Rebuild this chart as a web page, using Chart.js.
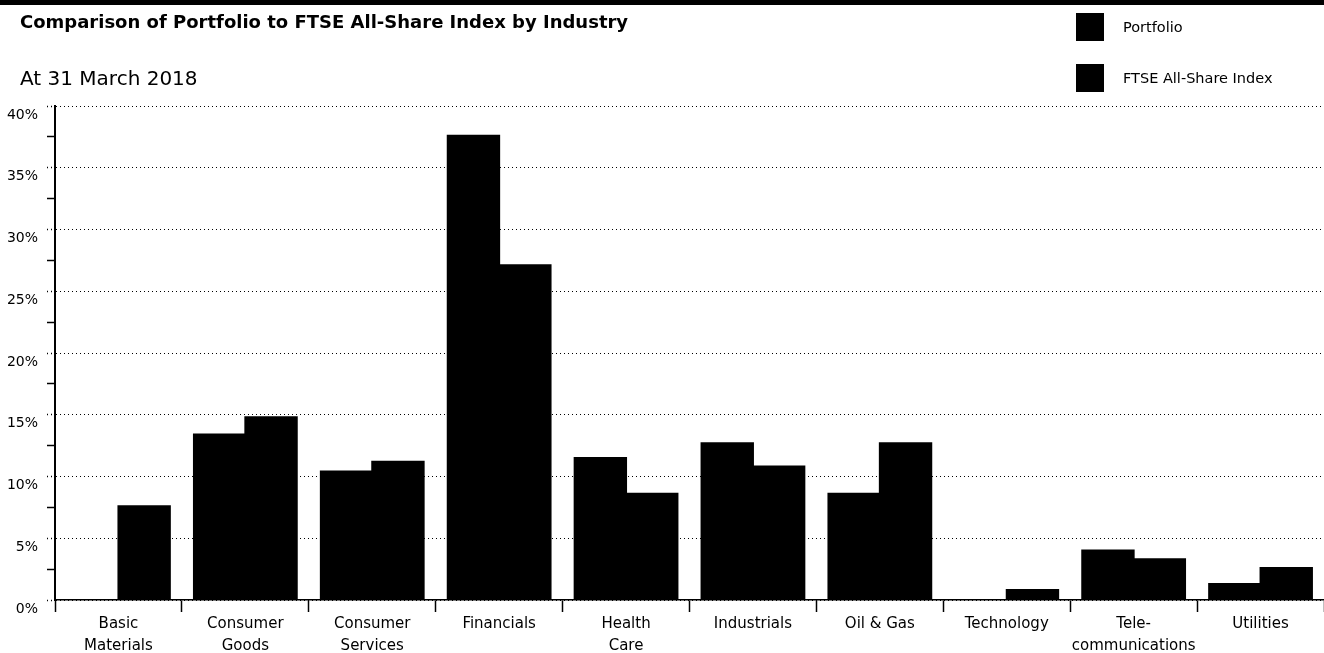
<!DOCTYPE html>
<html lang="en">
<head>
    <meta charset="UTF-8">
    <title>Comparison of Portfolio to FTSE All-Share Index by Industry</title>
    <script src="https://cdn.jsdelivr.net/npm/chart.js"></script>
    <style>
        html, body {
            margin: 0;
            padding: 0;
            background: #fff;
            font-family: 'DejaVu Sans', sans-serif;
            color: #000;
        }
        #wrap {
            position: relative;
            width: 1324px;
            height: 653px;
            overflow: hidden;
        }
        #topBar {
            position: absolute;
            left: 0; top: 0;
            width: 1324px;
            height: 5px;
            background: #000;
        }
        #title {
            position: absolute;
            left: 20px; top: 11px;
            font-size: 18px;
            font-weight: bold;
            white-space: nowrap;
        }
        #subtitle {
            position: absolute;
            left: 20px; top: 66px;
            font-size: 20px;
            white-space: nowrap;
        }
        .legendItem {
            position: absolute;
            left: 1076px;
            height: 28px;
            font-size: 14.5px;
            white-space: nowrap;
            display: flex;
            align-items: center;
        }
        .legendItem span.box {
            display: inline-block;
            width: 28px;
            height: 28px;
            background: #000;
            margin-right: 19px;
        }
        canvas {
            position: absolute;
            left: 0; top: 0;
        }
    </style>
</head>
<body>
<div id="wrap">
    <canvas id="industryChart" width="1324" height="653"></canvas>
    <div id="topBar"></div>
    <div id="title">Comparison of Portfolio to FTSE All-Share Index by Industry</div>
    <div id="subtitle">At 31 March 2018</div>
    <div class="legendItem" style="top:13px"><span class="box"></span>Portfolio</div>
    <div class="legendItem" style="top:64px"><span class="box"></span>FTSE All-Share Index</div>
</div>

<script>
    const industries = [
        ['Basic', 'Materials'],
        ['Consumer', 'Goods'],
        ['Consumer', 'Services'],
        'Financials',
        ['Health', 'Care'],
        'Industrials',
        'Oil & Gas',
        'Technology',
        ['Tele-', 'communications'],
        'Utilities'
    ];
    const seriesNames = ['Portfolio', 'FTSE All-Share Index'];
    const portfolio = [0, 13.4, 10.4, 37.6, 11.5, 12.7, 8.6, 0, 4.0, 1.3];
    const ftseAllShare = [7.6, 14.8, 11.2, 27.1, 8.6, 10.8, 12.7, 0.8, 3.3, 2.6];
    const yMin = 0, yMax = 40, yStep = 2.5, yLabelStep = 5;

    const isMajor = v => Math.abs(v % yLabelStep) < 1e-6;

    const ctx = document.getElementById('industryChart').getContext('2d');

    new Chart(ctx, {
        type: 'bar',
        data: {
            labels: industries,
            datasets: [
                {
                    label: seriesNames[0],
                    data: portfolio,
                    backgroundColor: '#000',
                    borderWidth: 0,
                    inflateAmount: 1,
                    categoryPercentage: 0.81,
                    barPercentage: 1.0
                },
                {
                    label: seriesNames[1],
                    data: ftseAllShare,
                    backgroundColor: '#000',
                    borderWidth: 0,
                    inflateAmount: 1,
                    categoryPercentage: 0.81,
                    barPercentage: 1.0
                }
            ]
        },
        options: {
            responsive: false,
            maintainAspectRatio: false,
            animation: false,
            layout: {
                padding: { top: 106, left: 0, right: 0, bottom: 0 }
            },
            plugins: {
                legend: { display: false },
                title: { display: false },
                tooltip: { enabled: false }
            },
            scales: {
                x: {
                    type: 'category',
                    offset: true,
                    afterFit: scale => { scale.height = 53; },
                    grid: {
                        offset: true,
                        drawOnChartArea: false,
                        color: '#000',
                        tickColor: '#000',
                        tickLength: 12,
                        tickWidth: 1.5
                    },
                    border: { display: true, color: '#000', width: 1.5 },
                    ticks: {
                        color: '#000',
                        padding: 1,
                        maxRotation: 0,
                        autoSkip: false,
                        font: { family: 'DejaVu Sans', size: 15, lineHeight: 1.45 }
                    }
                },
                y: {
                    min: yMin,
                    max: yMax,
                    afterFit: scale => { scale.width = 55; },
                    grid: {
                        color: c => isMajor(c.tick.value) ? '#000' : 'rgba(0,0,0,0)',
                        lineWidth: 1,
                        tickColor: '#000',
                        tickBorderDash: c => isMajor(c.tick.value) ? [1, 3] : [],
                        tickLength: 8,
                        tickWidth: 1.5
                    },
                    border: { display: true, color: '#000', width: 2, dash: [1, 3] },
                    ticks: {
                        stepSize: yStep,
                        color: '#000',
                        padding: 9,
                        labelOffset: 9,
                        font: { family: 'DejaVu Sans', size: 14 },
                        callback: v => isMajor(v) ? v + '%' : ''
                    }
                }
            }
        }
    });
</script>
</body>
</html>
